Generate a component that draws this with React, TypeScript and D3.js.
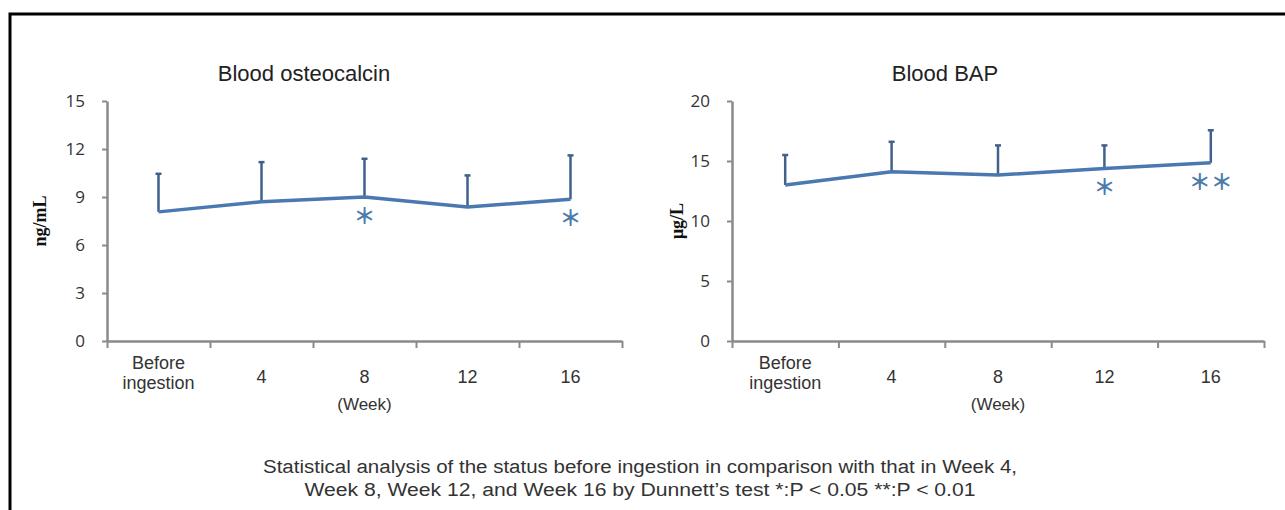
import * as d3 from "d3";
import { useEffect, useRef } from "react";

// categories and values
const categories: string[] = ["Before ingestion", "4", "8", "12", "16"];
const osteoMean: number[] = [8.07, 8.7, 9.0, 8.38, 8.86];
const osteoSD: number[] = [2.38, 2.48, 2.39, 1.97, 2.74];
const osteoSig: string[] = ["", "", "＊", "", "＊"];
const osteoTicks: number[] = [0, 3, 6, 9, 12, 15];

const bapMean: number[] = [13.0, 14.1, 13.83, 14.38, 14.85];
const bapSD: number[] = [2.5, 2.5, 2.47, 1.92, 2.71];
const bapSig: string[] = ["", "", "", "＊", "＊＊"];
const bapTicks: number[] = [0, 5, 10, 15, 20];

const footnote: string[] = [
  "Statistical analysis of the status before ingestion in comparison with that in Week 4,",
  "Week 8, Week 12, and Week 16 by Dunnett’s test  *:P < 0.05 **:P < 0.01",
];

interface Panel {
  title: string;
  unit: string;
  mean: number[];
  sd: number[];
  sig: string[];
  ticks: number[];
  left: number;
  right: number;
  unitX: number;
  titleX: number;
}

const panels: Panel[] = [
  { title: "Blood osteocalcin", unit: "ng/mL", mean: osteoMean, sd: osteoSD, sig: osteoSig, ticks: osteoTicks, left: 107, right: 622, unitX: 40, titleX: 304 },
  { title: "Blood BAP", unit: "μg/L", mean: bapMean, sd: bapSD, sig: bapSig, ticks: bapTicks, left: 732, right: 1264, unitX: 677, titleX: 945 },
];

const width = 1285;
const height = 510;
const marginTop = 101;
const axisY = 341;
const axisColor = "#8a8a8a";
const lineColor = "#4a78b0";
const errColor = "#41618a";
const sigColor = "#4b7bab";
const textFont = "'Liberation Sans', Arial, sans-serif";

export default function App() {
  const svgRef = useRef<SVGSVGElement>(null);

  useEffect(() => {
    const svg = d3.select(svgRef.current);
    svg.selectAll("*").remove();

    // marco
    svg
      .append("path")
      .attr("d", `M10,${height} V14 H${width}`)
      .attr("fill", "none")
      .attr("stroke", "#000")
      .attr("stroke-width", 3);

    panels.forEach((p) => {
      const g = svg.append("g");
      const x = d3.scaleBand<string>().domain(categories).range([p.left, p.right]);
      const xEdge = d3.scaleLinear().domain([0, categories.length]).range([p.left, p.right]);
      const y = d3
        .scaleLinear()
        .domain([0, d3.max(p.ticks) as number])
        .range([axisY, marginTop]);
      const cx = (d: string) => (x(d) as number) + x.bandwidth() / 2;

      // titulo
      g.append("text")
        .attr("x", p.titleX)
        .attr("y", 73)
        .attr("text-anchor", "middle")
        .attr("dominant-baseline", "central")
        .attr("font-family", textFont)
        .attr("font-size", 22)
        .attr("fill", "#222")
        .text(p.title);

      // eje Y
      const yAxis = g
        .append("g")
        .attr("transform", `translate(${p.left},0)`)
        .call(d3.axisLeft(y).tickValues(p.ticks).tickSize(5).tickPadding(17).tickSizeOuter(0));
      yAxis.select(".domain").attr("stroke", axisColor).attr("stroke-width", 2.5);
      yAxis.selectAll(".tick line").attr("stroke", axisColor).attr("stroke-width", 2);
      yAxis
        .selectAll(".tick text")
        .attr("font-family", "'Open Sans', sans-serif")
        .attr("font-size", 17)
        .attr("fill", "#333");

      // eje X (marcas entre categorias)
      const xAxis = g
        .append("g")
        .attr("transform", `translate(0,${axisY})`)
        .call(
          d3
            .axisBottom(xEdge)
            .tickValues(d3.range(categories.length + 1))
            .tickSize(7)
            .tickSizeOuter(0)
            .tickFormat(() => "")
        );
      xAxis.select(".domain").attr("stroke", axisColor).attr("stroke-width", 2.5);
      xAxis.selectAll(".tick line").attr("stroke", axisColor).attr("stroke-width", 2);

      // etiquetas de categoria
      categories.forEach((c) => {
        const t = g
          .append("text")
          .attr("x", cx(c))
          .attr("text-anchor", "middle")
          .attr("font-family", textFont)
          .attr("font-size", 18)
          .attr("fill", "#333");
        const words = c.split(" ");
        if (words.length > 1) {
          words.forEach((w, i) => {
            t.append("tspan").attr("x", cx(c)).attr("y", 369 + i * 20).text(w);
          });
        } else {
          t.attr("y", 383).text(c);
        }
      });
      g.append("text")
        .attr("x", cx(categories[2]))
        .attr("y", 410)
        .attr("text-anchor", "middle")
        .attr("font-family", textFont)
        .attr("font-size", 17)
        .attr("fill", "#333")
        .text("(Week)");

      // unidad
      g.append("text")
        .attr("transform", `translate(${p.unitX},221) rotate(-90)`)
        .attr("text-anchor", "middle")
        .attr("dominant-baseline", "central")
        .attr("font-family", "'Liberation Serif', serif")
        .attr("font-weight", "bold")
        .attr("font-size", 18)
        .attr("fill", "#111")
        .text(p.unit);

      // barras de error (solo hacia arriba)
      categories.forEach((c, i) => {
        const top = y(p.mean[i] + p.sd[i]);
        g.append("line")
          .attr("x1", cx(c))
          .attr("x2", cx(c))
          .attr("y1", y(p.mean[i]))
          .attr("y2", top)
          .attr("stroke", errColor)
          .attr("stroke-width", 2.5);
        g.append("line")
          .attr("x1", cx(c) - 3)
          .attr("x2", cx(c) + 3)
          .attr("y1", top)
          .attr("y2", top)
          .attr("stroke", errColor)
          .attr("stroke-width", 2.5);
      });

      // linea de medias
      const line = d3
        .line<number>()
        .x((_, i) => cx(categories[i]))
        .y((d) => y(d));
      g.append("path")
        .attr("d", line(p.mean))
        .attr("fill", "none")
        .attr("stroke", lineColor)
        .attr("stroke-width", 3.5)
        .attr("stroke-linejoin", "round");

      // significancia
      categories.forEach((c, i) => {
        if (!p.sig[i]) return;
        g.append("text")
          .attr("x", cx(c))
          .attr("y", y(p.mean[i]) + 17)
          .attr("text-anchor", "middle")
          .attr("dominant-baseline", "central")
          .attr("font-family", "'Noto Sans CJK JP', sans-serif")
          .attr("font-weight", "bold")
          .attr("font-size", 22)
          .attr("fill", sigColor)
          .text(p.sig[i]);
      });
    });

    // nota al pie
    const lens = [754, 671];
    footnote.forEach((s, i) => {
      svg
        .append("text")
        .attr("x", 640)
        .attr("y", 467 + i * 23)
        .attr("text-anchor", "middle")
        .attr("dominant-baseline", "central")
        .attr("font-family", "'Liberation Sans Narrow', 'Liberation Sans', sans-serif")
        .attr("font-size", 18)
        .attr("fill", "#333")
        .attr("textLength", lens[i])
        .attr("lengthAdjust", "spacingAndGlyphs")
        .text(s);
    });
  }, []);

  return (
    <svg
      ref={svgRef}
      width={width}
      height={height}
      style={{ position: "absolute", left: 0, top: 0, background: "#fff" }}
    />
  );
}
